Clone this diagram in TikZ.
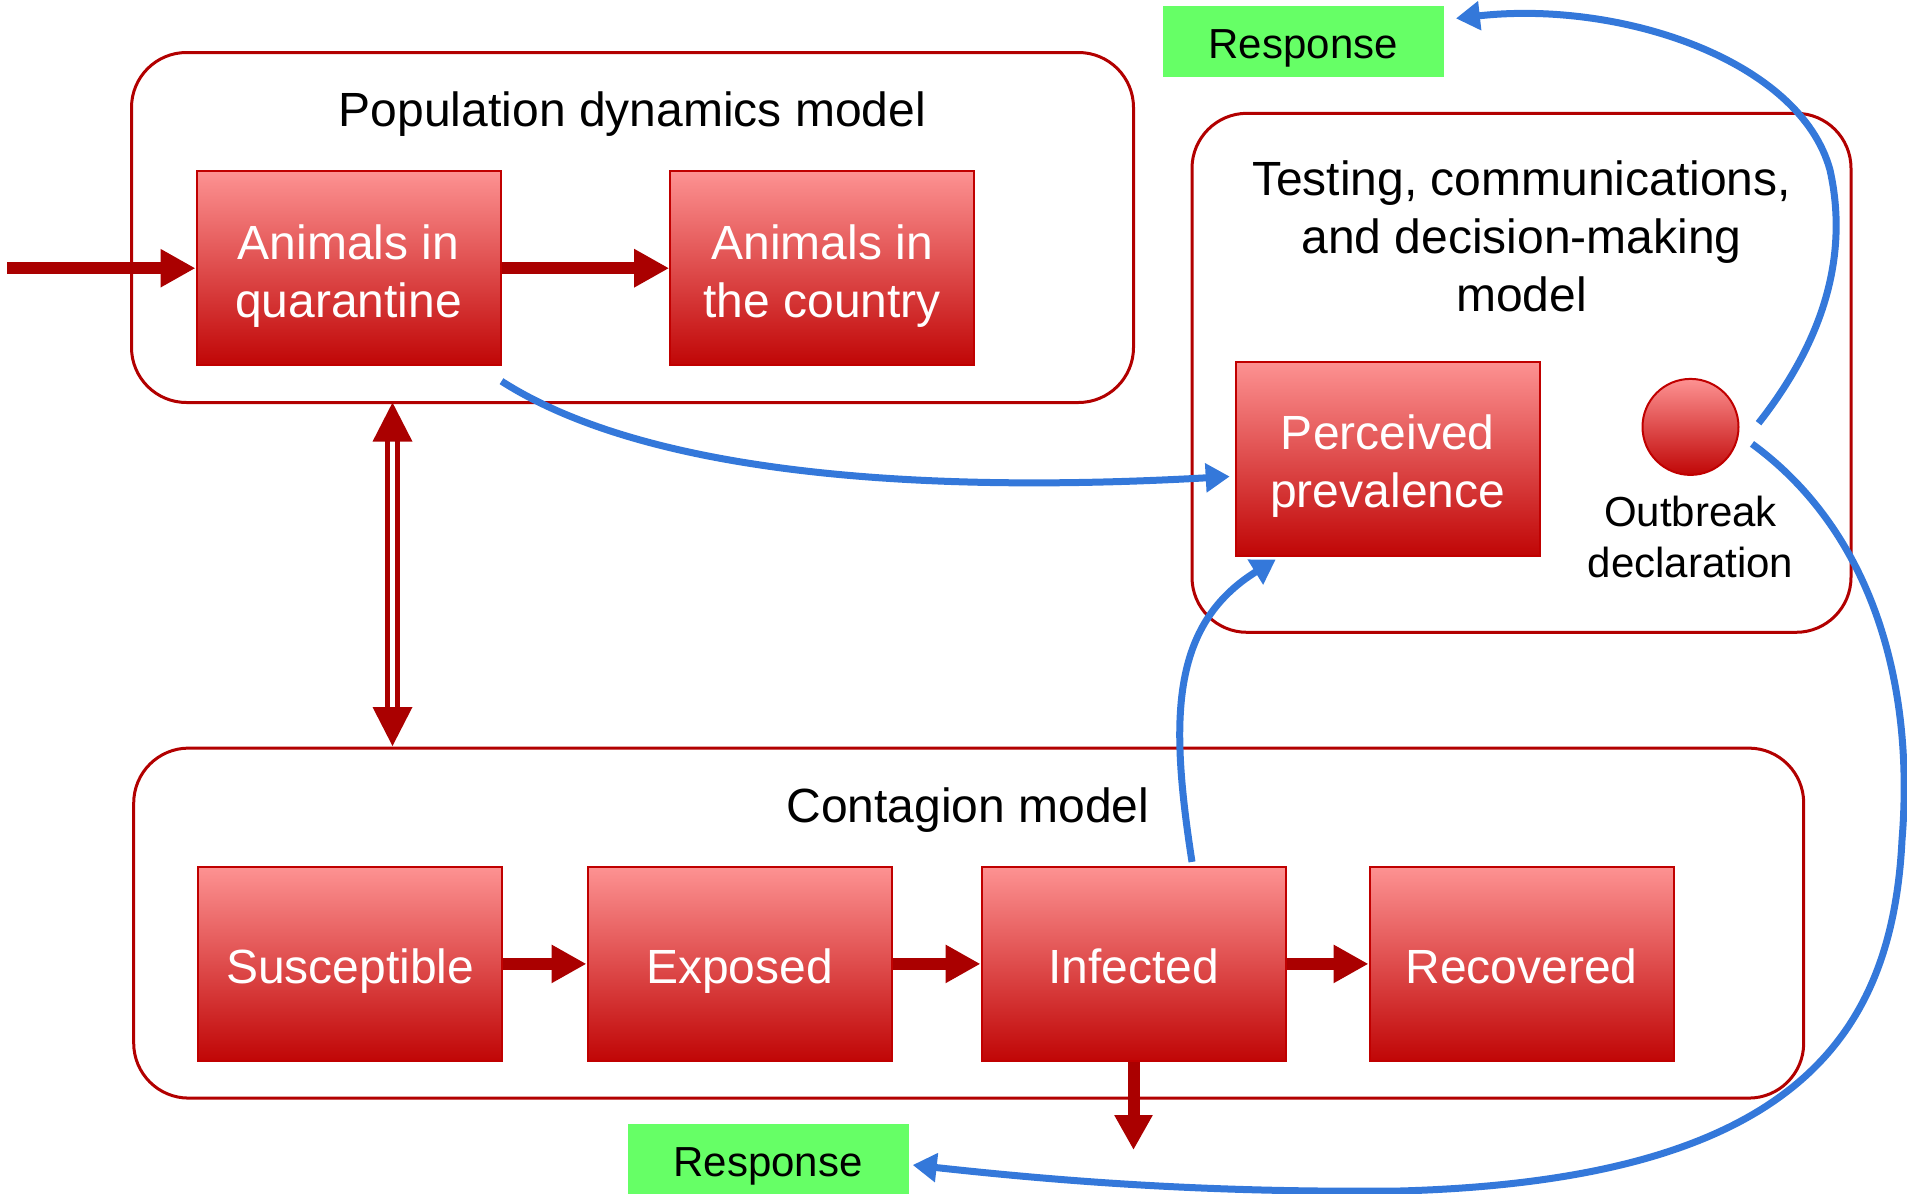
\documentclass[tikz,border=0pt]{standalone}
\usepackage{fontspec}
\setmainfont{Liberation Sans}
\usetikzlibrary{arrows.meta,calc}

\definecolor{boxtop}{RGB}{253,146,146}
\definecolor{boxbot}{RGB}{192,6,6}
\definecolor{boxedge}{RGB}{192,0,0}
\definecolor{frameRed}{RGB}{178,0,0}
\definecolor{flowRed}{RGB}{170,0,0}
\definecolor{linkBlue}{RGB}{52,120,218}
\definecolor{respGreen}{RGB}{102,255,102}

\tikzset{
  bigtext/.style={font=\fontsize{48pt}{58pt}\selectfont},
  midtext/.style={font=\fontsize{42pt}{51pt}\selectfont},
  stage/.style={rectangle, top color=boxtop, bottom color=boxbot, draw=boxedge,
    line width=2pt, minimum width=304pt, minimum height=194pt, align=center,
    text=white, bigtext, inner sep=0pt, text height=40pt, text depth=0pt},
  stagetwo/.style={stage, text height=98pt},
  frame/.style={rectangle, draw=frameRed, line width=3pt, rounded corners=55pt,
    inner sep=0pt},
  title/.style={align=center, bigtext, inner sep=0pt},
  response/.style={rectangle, fill=respGreen, minimum width=281pt,
    minimum height=71pt, midtext, inner sep=0pt, text height=34pt, text depth=0pt},
  flow/.style={draw=flowRed, line width=12pt, -{Triangle[length=35pt,width=36pt]}},
  link/.style={draw=linkBlue, line width=7pt, -{Triangle[length=24pt,width=28pt]}},
}

\begin{document}
\begin{tikzpicture}[x=1pt,y=-1pt]
\useasboundingbox (0,0) rectangle (1907,1194);

% model frames
\node[frame, minimum width=1002pt, minimum height=350pt] (popframe) at (632.5,227.5) {};
\node[frame, minimum width=659pt, minimum height=519pt] (testframe) at (1521.5,372.8) {};
\node[frame, minimum width=1670pt, minimum height=350pt] (contframe) at (968.7,923.1) {};

% frame titles
\node[title] (poptitle) at (632.4,114.5) {Population dynamics model};
\node[title] (testtitle) at (1521.5,236) {Testing, communications,\\and decision-making\\model};
\node[title] (conttitle) at (968,810) {Contagion model};

% population dynamics stages
\node[stagetwo] (AQ) at (348.5,268.2) {Animals in\\quarantine};
\node[stagetwo] (AC) at (822.2,268.2) {Animals in\\the country};

% testing stages
\node[stagetwo] (PP) at (1387.7,458.5) {Perceived\\prevalence};
\node[circle, top color=boxtop, bottom color=boxbot, draw=boxedge, line width=2pt,
  minimum size=96pt, inner sep=0pt] (OB) at (1690.5,426.9) {};
\node[align=center, midtext, inner sep=0pt] (OBlabel) at (1690.5,537) {Outbreak\\declaration};

% contagion stages
\node[stage] (S) at (350.3,963.9) {Susceptible};
\node[stage] (E) at (739.5,963.9) {Exposed};
\node[stage] (I) at (1133.5,963.9) {Infected};
\node[stage] (R) at (1521.5,963.9) {Recovered};

% responses
\node[response] (resptop) at (1303.2,41.4) {Response};
\node[response] (respbot) at (768,1159) {Response};

% red flows
\coordinate (inflow) at (7,268.2);
\draw[flow] (inflow) -- (AQ.west);
\draw[flow] (AQ.east) -- (AC.west);
\draw[flow] (S.east) -- (E.west);
\draw[flow] (E.east) -- (I.west);
\draw[flow] (I.east) -- (R.west);
\coordinate (outflow) at (1133.5,1150);
\draw[flow] (I.south) -- (outflow);

% two-way link between population and contagion models
\coordinate (dtop) at (392.5,402.6);
\coordinate (dbot) at (392.5,746);
\draw[flowRed, line width=5pt, double=white, double distance=5pt]
  ($(dtop)+(0,36)$) -- ($(dbot)+(0,-36)$);
\fill[flowRed] (dtop) -- ++(-20,39) -- ++(40,0) -- cycle;
\fill[flowRed] (dbot) -- ++(-20,-39) -- ++(40,0) -- cycle;

% blue information links
\draw[link] ([yshift=-15pt]AQ.south east)
  .. controls (640,470) and (900,495) .. ([xshift=-5pt,yshift=-18pt]PP.west);
\draw[link] ([xshift=58.5pt,yshift=4pt]I.north)
  .. controls (1170,720) and (1170,625) .. ([xshift=41pt,yshift=-3pt]PP.south west);
\draw[link] ([xshift=19pt,yshift=3.7pt]OB.east)
  .. controls (1820,345) and (1850,260) .. (1830,170)
  .. controls (1800,60) and (1620,0) .. ([xshift=12pt,yshift=23pt]resptop.east);
\draw[link] ([xshift=12.5pt,yshift=-17pt]OB.east)
  .. controls (1870,530) and (1915,680) .. (1902,840)
  .. controls (1892,1040) and (1790,1180) .. (1400,1191)
  .. controls (1200,1193) and (1050,1180) .. ([xshift=4pt,yshift=-6pt]respbot.east);
\end{tikzpicture}
\end{document}
